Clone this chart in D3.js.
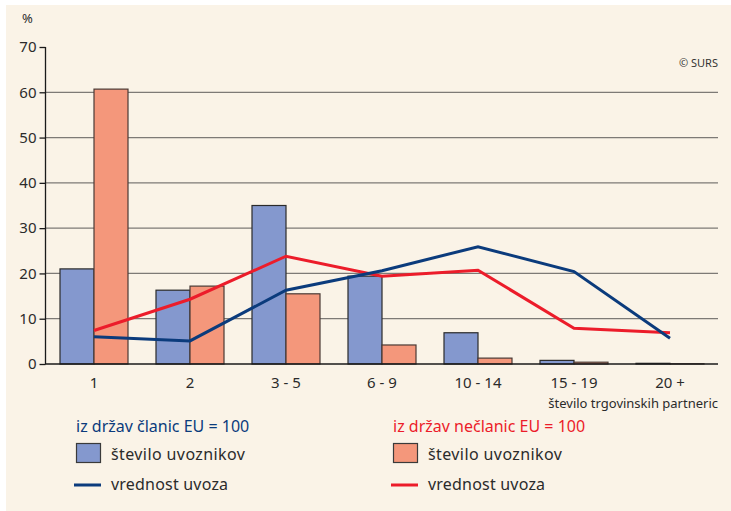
<!DOCTYPE html>
<html>
<head>
<meta charset="utf-8">
<script src="https://cdn.jsdelivr.net/npm/d3@7"></script>
<style>
  html, body { margin: 0; padding: 0; background: #ffffff; }
  svg { display: block; }
  text { font-family: "Noto Sans", "Open Sans", sans-serif; }
</style>
</head>
<body>
<svg id="chart" width="731" height="511"></svg>
<script>
// Number of trading partners (x categories)
const categories = ["1", "2", "3 - 5", "6 - 9", "10 - 14", "15 - 19", "20 +"];
// EU member states = 100: number of importers, value of imports
const euImporters = [21.0, 16.3, 35.0, 19.4, 6.9, 0.8, 0.15];
const euValue     = [6.0, 5.1, 16.3, 20.6, 25.9, 20.4, 5.7];
// Non-EU states = 100: number of importers, value of imports
const nonEuImporters = [60.7, 17.2, 15.5, 4.2, 1.3, 0.4, 0.05];
const nonEuValue     = [7.4, 14.3, 23.8, 19.4, 20.7, 7.9, 6.9];
const yTicks = [0, 10, 20, 30, 40, 50, 60, 70];

const colors = {
  bg: "#faf3e7",
  euBar: "#8498ce",
  nonEuBar: "#f4977b",
  euLine: "#0b3b7c",
  nonEuLine: "#ec1c2a",
  grid: "#7d7a76",
  text: "#2b2b2b"
};

const svg = d3.select("#chart");
svg.append("rect").attr("x", 6).attr("y", 5).attr("width", 725).attr("height", 506)
  .attr("fill", colors.bg);

const x = d3.scaleBand().domain(categories).range([46, 718]).paddingInner(0).paddingOuter(0);
const y = d3.scaleLinear().domain([0, 70]).range([364, 47]);
const barW = 34;

// Gridlines
svg.append("g").selectAll("line").data(yTicks.filter(t => t > 0 && t < 70)).join("line")
  .attr("x1", 45).attr("x2", 718)
  .attr("y1", d => y(d)).attr("y2", d => y(d))
  .attr("stroke", colors.grid).attr("stroke-width", 1.3);

// Y axis
const yAxis = d3.axisLeft(y).tickValues(yTicks).tickSize(6).tickPadding(3).tickFormat(d3.format("d"));
const gy = svg.append("g").attr("transform", "translate(45.5,0)").call(yAxis);
gy.select(".domain").attr("stroke", "#1a1a1a").attr("stroke-width", 1.3).attr("d", `M0,${y(70)}V${y(0)}`);
gy.selectAll(".tick line").attr("stroke", "#1a1a1a").attr("stroke-width", 1.3);
gy.selectAll(".tick text").attr("font-size", 15).attr("fill", colors.text)
  .attr("font-family", "'Noto Sans', sans-serif");

svg.append("text").attr("x", 22).attr("y", 23).attr("font-size", 13).attr("fill", colors.text).text("%");

// Bars
const bars = svg.append("g");
categories.forEach((c, i) => {
  const cx = x(c) + x.bandwidth() / 2;
  bars.append("rect")
    .attr("x", cx - barW).attr("y", y(euImporters[i]))
    .attr("width", barW).attr("height", y(0) - y(euImporters[i]))
    .attr("fill", colors.euBar).attr("stroke", "#2a2a2a").attr("stroke-width", 1.2);
  bars.append("rect")
    .attr("x", cx).attr("y", y(nonEuImporters[i]))
    .attr("width", barW).attr("height", y(0) - y(nonEuImporters[i]))
    .attr("fill", colors.nonEuBar).attr("stroke", "#4a3a35").attr("stroke-width", 1.2);
});

// X axis baseline
svg.append("line").attr("x1", 45).attr("x2", 718).attr("y1", y(0)).attr("y2", y(0))
  .attr("stroke", "#1a1a1a").attr("stroke-width", 1.4);

// Lines
const line = d3.line().x((d, i) => x(categories[i]) + x.bandwidth() / 2).y(d => y(d));
svg.append("path").datum(nonEuValue).attr("d", line)
  .attr("fill", "none").attr("stroke", colors.nonEuLine).attr("stroke-width", 3);
svg.append("path").datum(euValue).attr("d", line)
  .attr("fill", "none").attr("stroke", colors.euLine).attr("stroke-width", 3);

// X labels
svg.append("g").selectAll("text").data(categories).join("text")
  .attr("x", d => x(d) + x.bandwidth() / 2).attr("y", 388)
  .attr("text-anchor", "middle").attr("font-size", 15).attr("fill", colors.text)
  .text(d => d);

svg.append("text").attr("x", 718).attr("y", 408).attr("text-anchor", "end")
  .attr("font-size", 13).attr("fill", colors.text).text("število trgovinskih partneric");

svg.append("text").attr("x", 718).attr("y", 67).attr("text-anchor", "end")
  .attr("font-size", 11).attr("fill", "#333").attr("font-family", "'Liberation Sans', Arial, sans-serif")
  .text("© SURS");

// Legend
const legendCols = [
  { x: 76, title: "iz držav članic EU = 100", color: colors.euLine, bar: colors.euBar, line: colors.euLine },
  { x: 393, title: "iz držav nečlanic EU = 100", color: colors.nonEuLine, bar: colors.nonEuBar, line: colors.nonEuLine }
];
legendCols.forEach(col => {
  const g = svg.append("g");
  g.append("text").attr("x", col.x).attr("y", 432).attr("font-size", 16).attr("fill", col.color).text(col.title);
  g.append("rect").attr("x", col.x + 0.5).attr("y", 443.5).attr("width", 24).attr("height", 19)
    .attr("fill", col.bar).attr("stroke", "#3a3a3a").attr("stroke-width", 1.2);
  g.append("text").attr("x", col.x + 35).attr("y", 460).attr("font-size", 16).attr("letter-spacing", 0.4)
    .attr("fill", colors.text).text("število uvoznikov");
  g.append("line").attr("x1", col.x - 2).attr("x2", col.x + 25).attr("y1", 485).attr("y2", 485)
    .attr("stroke", col.line).attr("stroke-width", 3);
  g.append("text").attr("x", col.x + 35).attr("y", 490).attr("font-size", 16).attr("letter-spacing", 0.2)
    .attr("fill", colors.text).text("vrednost uvoza");
});
</script>
</body>
</html>
